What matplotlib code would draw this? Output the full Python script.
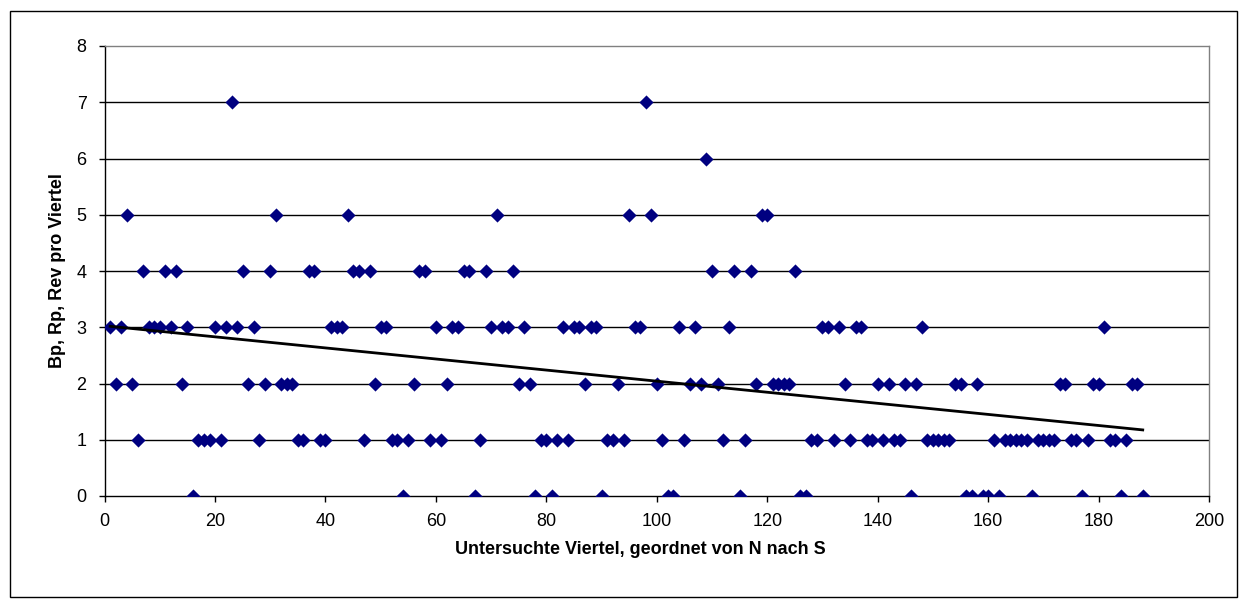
import numpy as np
import matplotlib
matplotlib.use("Agg")
import matplotlib.pyplot as plt
from matplotlib.patches import Rectangle

plt.rcParams.update({
    "font.family": ["Liberation Sans", "DejaVu Sans"],
    "font.size": 13,
})

# -----------------------------
# Data: value per quarter, quarters 1..188 ordered N -> S
# -----------------------------
values = [
    3, 2, 3, 5, 2, 1, 4, 3, 3, 3,
    4, 3, 4, 2, 3, 0, 1, 1, 1, 3,
    1, 3, 7, 3, 4, 2, 3, 1, 2, 4,
    5, 2, 2, 2, 1, 1, 4, 4, 1, 1,
    3, 3, 3, 5, 4, 4, 1, 4, 2, 3,
    3, 1, 1, 0, 1, 2, 4, 4, 1, 3,
    1, 2, 3, 3, 4, 4, 0, 1, 4, 3,
    5, 3, 3, 4, 2, 3, 2, 0, 1, 1,
    0, 1, 3, 1, 3, 3, 2, 3, 3, 0,
    1, 1, 2, 1, 5, 3, 3, 7, 5, 2,
    1, 0, 0, 3, 1, 2, 3, 2, 6, 4,
    2, 1, 3, 4, 0, 1, 4, 2, 5, 5,
    2, 2, 2, 2, 4, 0, 0, 1, 1, 3,
    3, 1, 3, 2, 1, 3, 3, 1, 1, 2,
    1, 2, 1, 1, 2, 0, 2, 3, 1, 1,
    1, 1, 1, 2, 2, 0, 0, 2, 0, 0,
    1, 0, 1, 1, 1, 1, 1, 0, 1, 1,
    1, 1, 2, 2, 1, 1, 0, 1, 2, 2,
    3, 1, 1, 0, 1, 2, 2, 0,
]
quarters = list(range(1, len(values) + 1))

x_ticks = [0, 20, 40, 60, 80, 100, 120, 140, 160, 180, 200]
y_ticks = [0, 1, 2, 3, 4, 5, 6, 7, 8]

W, H = 1247, 608
fig = plt.figure(figsize=(W / 100, H / 100), dpi=100, facecolor="white")

# outer chart border
fig.add_artist(Rectangle((10 / W, 11 / H), (1237 - 10) / W, (597 - 11) / H,
                         transform=fig.transFigure, fill=False,
                         edgecolor="black", linewidth=1.0))

ax = fig.add_axes([104.6 / W, 1 - 496 / H, (1209 - 104.6) / W, (496 - 46) / H])

# gridlines
for yv in y_ticks[1:-1]:
    ax.axhline(yv, color="black", lw=1.0, zorder=1)

ax.scatter(quarters, values, marker="D", s=52, color="#000080",
           edgecolors="#000080", linewidths=0, zorder=3)

# linear trend
k, d = np.polyfit(quarters, values, 1)
xs = np.array([quarters[0], quarters[-1]])
ax.plot(xs, k * xs + d, color="black", lw=2.0, zorder=4)

ax.set_xlim(0, 200)
ax.set_ylim(0, 8)
ax.set_xticks(x_ticks)
ax.set_yticks(y_ticks)
ax.tick_params(axis="both", direction="out", length=4, width=1.0,
               colors="black", labelsize=13)
ax.tick_params(axis="y", pad=9)
ax.tick_params(axis="x", pad=8)

for s in ("top", "right"):
    ax.spines[s].set_color("#808080")
    ax.spines[s].set_linewidth(1.0)
for s in ("left", "bottom"):
    ax.spines[s].set_color("black")
    ax.spines[s].set_linewidth(1.0)

fig.text(640 / W, 1 - 549 / H, "Untersuchte Viertel, geordnet von N nach S",
         ha="center", va="center", fontsize=13, fontweight="bold")
fig.text(58 / W, 1 - 271 / H, "Bp, Rp, Rev pro Viertel",
         ha="center", va="center", rotation=90, fontsize=13, fontweight="bold")

fig.savefig("out.png", dpi=100, facecolor="white")
plt.close(fig)
